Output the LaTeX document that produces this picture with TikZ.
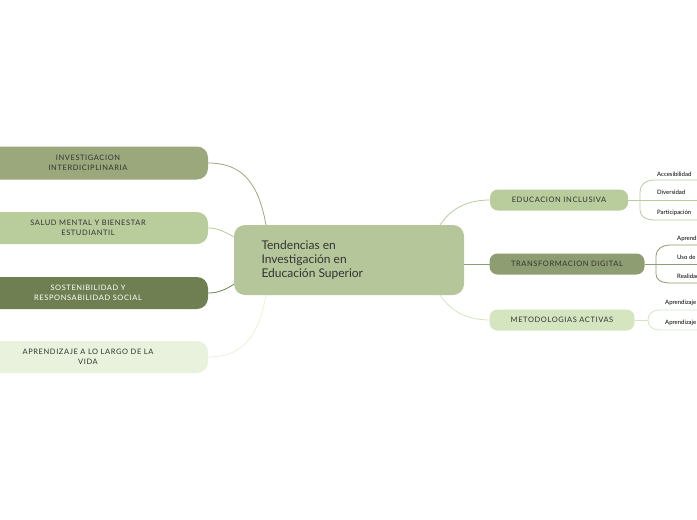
\documentclass[tikz,border=0pt]{standalone}
\usepackage{fontspec}
\setmainfont{Lato}
\begin{document}
\begin{tikzpicture}[x=1pt,y=-1pt,
 box/.style={rounded corners=11pt,inner sep=0pt,align=center,font=\fontsize{7.5}{9.5}\selectfont\addfontfeatures{LetterSpace=8}},
 lf/.style={font=\fontsize{6}{7}\selectfont,anchor=west,inner sep=1pt},
 ln/.style={line width=0.8pt}]
\useasboundingbox (0,0) rectangle (697,520);
\definecolor{cMain}{HTML}{B5C79A}
\definecolor{cA}{HTML}{9AA87C}
\definecolor{cB}{HTML}{B8CC9C}
\definecolor{cC}{HTML}{6F7F52}
\definecolor{cD}{HTML}{E8F2DC}
\definecolor{cE}{HTML}{8F9D72}
\definecolor{cF}{HTML}{D5E5C0}
\definecolor{txt}{HTML}{333333}
% connectors
\draw[ln,cA] (266,225) .. controls (258,180) and (240,163) .. (208,163);
\draw[ln,cB] (236,238) .. controls (225,232) and (218,228) .. (208,228);
\draw[ln,cC] (236,283) .. controls (225,290) and (218,293) .. (208,293);
\draw[ln,cD] (266,295) .. controls (258,340) and (240,357) .. (208,357);
\draw[ln,cB] (440,225) .. controls (450,210) and (465,200) .. (490,200);
\draw[ln,cE] (464,264) -- (490,264);
\draw[ln,cF] (440,295) .. controls (450,310) and (465,320) .. (490,320);
\node[box,fill=cMain,minimum width=230pt,minimum height=70pt] (m) at (349,260) {};
\node[anchor=west,align=left,font=\fontsize{12}{14}\selectfont,text=txt] at (258,260) {Tendencias en\\Investigación en\\Educación Superior};
\node[box,fill=cA,text=txt,minimum width=240pt,minimum height=33pt] (a) at (88,163) {INVESTIGACION\\INTERDICIPLINARIA};
\node[box,fill=cB,text=txt,minimum width=240pt,minimum height=32pt] (b) at (88,228) {SALUD MENTAL Y BIENESTAR\\ESTUDIANTIL};
\node[box,fill=cC,text=white,minimum width=240pt,minimum height=32pt] (c) at (88,293) {SOSTENIBILIDAD Y\\RESPONSABILIDAD SOCIAL};
\node[box,fill=cD,text=txt,minimum width=240pt,minimum height=32pt] (d) at (88,357) {APRENDIZAJE A LO LARGO DE LA\\VIDA};
\node[box,fill=cB,text=txt,rounded corners=8pt,minimum width=138pt,minimum height=21pt] (e) at (559,200) {EDUCACION INCLUSIVA};
\node[box,fill=cE,text=txt,rounded corners=8pt,minimum width=155pt,minimum height=21pt] (t) at (567,264) {TRANSFORMACION DIGITAL};
\node[box,fill=cF,text=txt,rounded corners=8pt,minimum width=145pt,minimum height=21pt] (g) at (562,320) {METODOLOGIAS ACTIVAS};
% leaves
\draw[ln,cB] (628,200) -- (640,200);
\draw[ln,cB] (700,180) -- (655,180) .. controls (645,180) and (640,185) .. (640,192) -- (640,210) .. controls (640,216) and (645,220) .. (655,220) -- (700,220);
\draw[ln,cB] (640,200) -- (700,200);
\node[lf] at (656,174) {Accesibilidad};
\node[lf] at (656,192) {Diversidad};
\node[lf] at (656,213) {Participación};
\draw[ln,cE] (645,264) -- (656,264);
\draw[ln,cE] (700,245) -- (671,245) .. controls (661,245) and (656,250) .. (656,256) -- (656,274) .. controls (656,280) and (661,283) .. (671,283) -- (700,283);
\draw[ln,cE] (656,264) -- (700,264);
\node[lf] at (676,239) {Aprendizaje};
\node[lf] at (676,257) {Uso de};
\node[lf] at (676,276) {Realidad};
\draw[ln,cF] (635,320) -- (648,320);
\draw[ln,cF] (700,310) -- (660,310) .. controls (652,310) and (648,314) .. (648,320) .. controls (648,326) and (652,330) .. (660,330) -- (700,330);
\node[lf] at (664,303) {Aprendizaje};
\node[lf] at (664,323) {Aprendizaje};
\end{tikzpicture}
\end{document}
